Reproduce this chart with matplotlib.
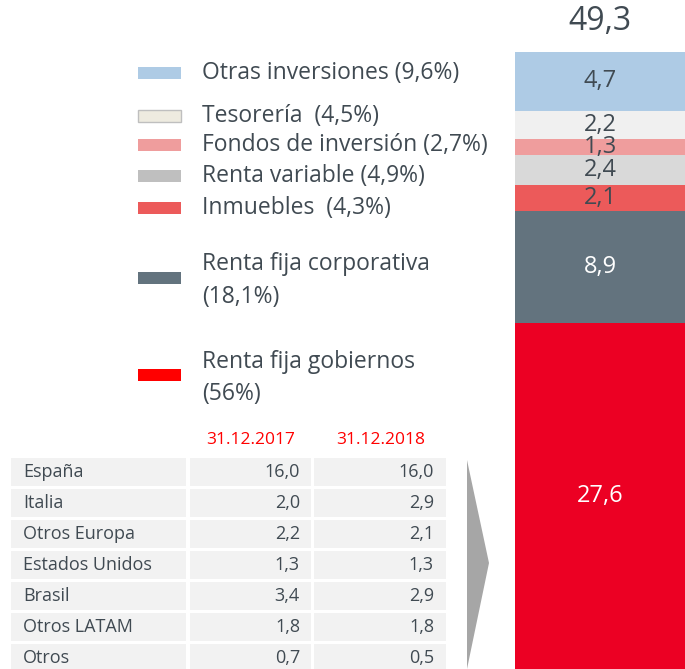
import matplotlib.pyplot as plt
from matplotlib.patches import Rectangle, Polygon

plt.rcParams['font.family'] = ['Open Sans', 'DejaVu Sans']

# stacked bar, bottom to top
categories = ["Renta fija gobiernos", "Renta fija corporativa", "Inmuebles",
              "Renta variable", "Fondos de inversión", "Tesorería", "Otras inversiones"]
values = [27.6, 8.9, 2.1, 2.4, 1.3, 2.2, 4.7]
value_labels = ["27,6", "8,9", "2,1", "2,4", "1,3", "2,2", "4,7"]
total_label = "49,3"
shares = ["(56%)", "(18,1%)", "(4,3%)", "(4,9%)", "(2,7%)", "(4,5%)", "(9,6%)"]

bar_colors = ["#ec0023", "#63737e", "#ec5a5a", "#d9d9d9", "#ef9d9d", "#f0f0f0", "#aecbe5"]
legend_colors = ["#ff0000", "#63737e", "#ec5a5a", "#bfbfbf", "#ef9d9d", "#eeebe0", "#aecbe5"]
label_colors = ["white", "white", "#404a52", "#404a52", "#404a52", "#404a52", "#404a52"]

# table
countries = ["España", "Italia", "Otros Europa", "Estados Unidos", "Brasil", "Otros LATAM", "Otros"]
col_2017 = ["16,0", "2,0", "2,2", "1,3", "3,4", "1,8", "0,7"]
col_2018 = ["16,0", "2,9", "2,1", "1,3", "2,9", "1,8", "0,5"]
headers = ["31.12.2017", "31.12.2018"]

W, H = 685, 669
txt = "#404a52"
fig = plt.figure(figsize=(W / 100, H / 100), dpi=100)

# overlay in pixel coords
ov = fig.add_axes([0, 0, 1, 1])
ov.set_xlim(0, W)
ov.set_ylim(H, 0)
ov.axis("off")

# bar
ax = fig.add_axes([515 / W, 0, 1 - 515 / W, (H - 52) / H])
bottom = 0
for v, c, lab, lc in zip(values, bar_colors, value_labels, label_colors):
    ax.bar(0, v, bottom=bottom, width=1, color=c, linewidth=0)
    ax.text(0, bottom + v / 2, lab, ha="center", va="center", fontsize=17, color=lc)
    bottom += v
ax.set_xlim(-0.5, 0.5)
ax.set_ylim(0, bottom)
ax.axis("off")
ov.text(600, 22, total_label, ha="center", va="center", fontsize=23, color=txt)

# legend (top to bottom)
leg_y = [73, 116, 145, 176, 208, 278, 375]
text_y = [73, 116, 145, 176, 208, 280.5, 378]
order = [6, 5, 4, 3, 2, 1, 0]
for y, ty, i in zip(leg_y, text_y, order):
    ec = "#bfbfbf" if i == 5 else "none"
    ov.add_patch(Rectangle((138, y - 6), 43, 12, facecolor=legend_colors[i], edgecolor=ec, lw=1))
    if i in (0, 1):
        label = categories[i] + "\n" + shares[i]
        ov.text(202, ty, label, ha="left", va="center", fontsize=16.5, color=txt, linespacing=1.5)
    else:
        sep = "  " if i in (2, 5) else " "
        ov.text(202, ty, categories[i] + sep + shares[i], ha="left", va="center",
                fontsize=16.5, color=txt)

# table
for j, h in enumerate(headers):
    ov.text([251, 381][j], 440, h, ha="center", va="center", fontsize=12.5, color="#ff0000")
row_y = [472 + 31 * k for k in range(len(countries))]
ov.barh(row_y, 175, left=11, height=28, color="#f2f2f2")
ov.barh(row_y, 121, left=190, height=28, color="#f2f2f2")
ov.barh(row_y, 132, left=314, height=28, color="#f2f2f2")
for y, c, a, b in zip(row_y, countries, col_2017, col_2018):
    ov.text(23, y, c, ha="left", va="center", fontsize=13, color=txt)
    ov.text(300, y, a, ha="right", va="center", fontsize=13, color=txt)
    ov.text(434, y, b, ha="right", va="center", fontsize=13, color=txt)

# arrow
ov.add_patch(Polygon([(467, 460), (489, 563), (467, 669)], closed=True,
                     facecolor="#a6a6a6", edgecolor="none"))

fig.savefig("out.png", dpi=100)
